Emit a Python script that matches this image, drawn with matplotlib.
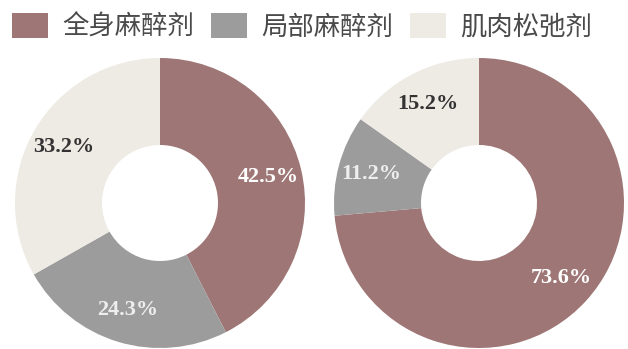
import matplotlib.pyplot as plt
from matplotlib.patches import Patch

# Anesthetic categories and their shares in two groups
categories = ['全身麻醉剂', '局部麻醉剂', '肌肉松弛剂']
left_values = [42.5, 24.3, 33.2]
right_values = [73.6, 11.2, 15.2]

colors = ['#9e7675', '#9c9c9c', '#eeeae4']
label_colors = ['white', '#eeeeee', '#333333']

fig = plt.figure(figsize=(6.28, 3.49), dpi=100)


def donut(rect, values):
    ax = fig.add_axes(rect)
    wedges, texts, autotexts = ax.pie(
        values, colors=colors, startangle=90, counterclock=False,
        autopct='%.1f%%', pctdistance=0.77,
        wedgeprops=dict(width=0.6, edgecolor='none'),
        textprops=dict(family='Liberation Serif', fontweight='bold', fontsize=16))
    for t, c in zip(autotexts, label_colors):
        t.set_color(c)
    ax.set_xlim(-1, 1)
    ax.set_ylim(-1, 1)
    ax.set_aspect('equal')
    return ax


donut([15 / 628, 1 / 349, 290 / 628, 290 / 349], left_values)
donut([334 / 628, 1 / 349, 290 / 628, 290 / 349], right_values)

# Legend across the top
handles = [Patch(facecolor=c, edgecolor='none') for c in colors]
fig.legend(handles, categories, loc='upper left',
           bbox_to_anchor=(12 / 628, 1 - 13 / 349),
           ncol=3, frameon=False, handlelength=1.36, handleheight=1.1,
           handletextpad=0.53, columnspacing=0.65, borderaxespad=0, borderpad=0,
           prop={'family': 'Noto Sans CJK SC', 'size': 19}, labelcolor='#4a4a4a')

fig.savefig('out.png', dpi=100)
